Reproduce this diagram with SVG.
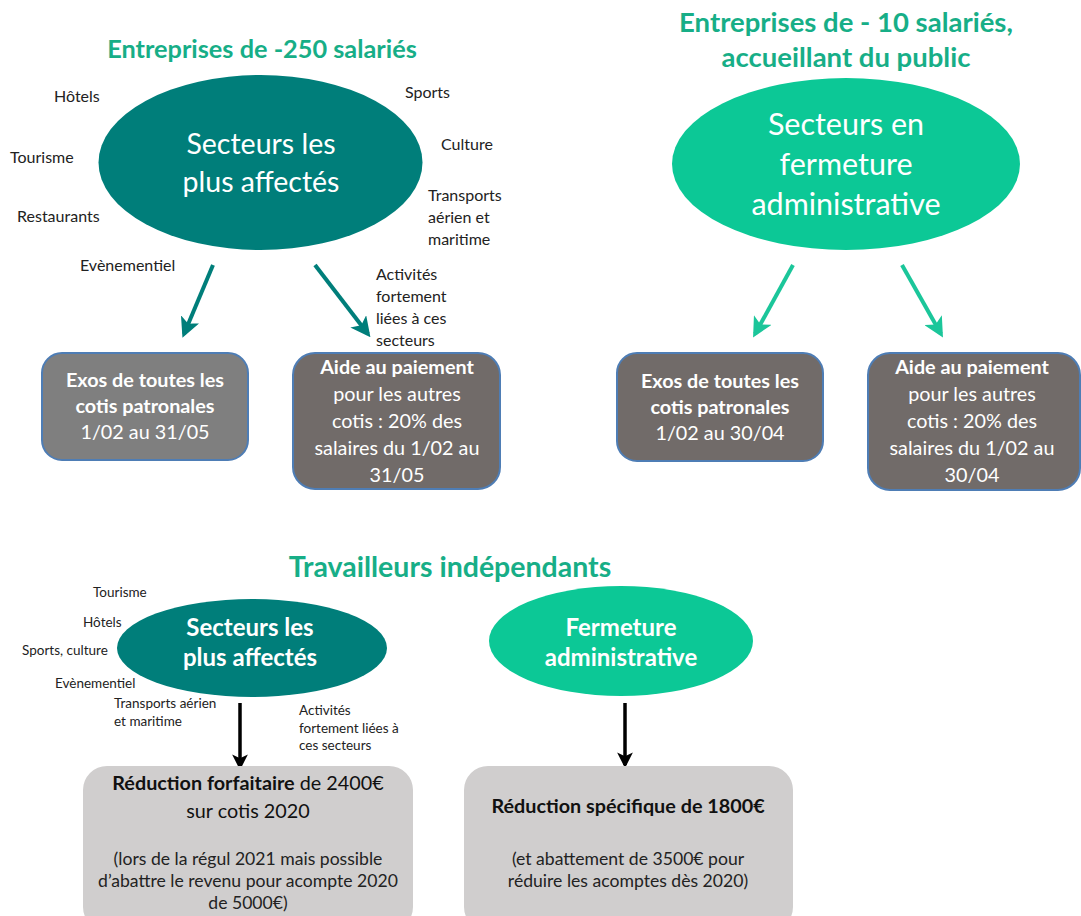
<svg xmlns="http://www.w3.org/2000/svg" width="1081" height="916" viewBox="0 0 1081 916">
<style>
text{font-family:Lato,"Open Sans","Liberation Sans",sans-serif}
.title{font-weight:bold;fill:#17AE87;text-anchor:middle}
.lbl{font-size:16px;fill:#222}
.slbl{font-size:13.5px;fill:#222}
.big{fill:#fff;text-anchor:middle}
.mid{font-size:24px;fill:#fff;text-anchor:middle;font-weight:bold}
.bt{font-size:19.8px;fill:#fff;text-anchor:middle}
.b{font-weight:bold}
.dt{font-size:19.8px;fill:#111;text-anchor:middle}
.st{font-size:17.6px;fill:#222;text-anchor:middle}
.box{stroke:#4E7DB5;stroke-width:2}
.teal{fill:#007E7A}
.mint{fill:#0CC896}
</style>
<defs>
<marker id="ah-teal" viewBox="0 0 10 10" refX="8" refY="5" markerWidth="5" markerHeight="5" orient="auto" markerUnits="strokeWidth"><path d="M0,0 L10,5 L0,10 L2.5,5 Z" fill="#007E7A"/></marker>
<marker id="ah-mint" viewBox="0 0 10 10" refX="8" refY="5" markerWidth="5" markerHeight="5" orient="auto" markerUnits="strokeWidth"><path d="M0,0 L10,5 L0,10 L2.5,5 Z" fill="#1BC69A"/></marker>
<marker id="ah-black" viewBox="0 0 10 10" refX="8" refY="5" markerWidth="4.5" markerHeight="4.5" orient="auto" markerUnits="strokeWidth"><path d="M0,0 L10,5 L0,10 L2.5,5 Z" fill="#000"/></marker>
</defs>

<g id="titles">
<text class="title" x="262" y="58" font-size="25.3">Entreprises de -250 salariés</text>
<text class="title" x="846" y="32" font-size="27.5">Entreprises de - 10 salariés,</text>
<text class="title" x="846" y="67" font-size="27.5">accueillant du public</text>
<text class="title" x="450" y="577" font-size="28.5">Travailleurs indépendants</text>
</g>

<g id="connectors">
<line x1="213" y1="265" x2="184" y2="334" stroke="#007E7A" stroke-width="4" marker-end="url(#ah-teal)"/>
<line x1="315" y1="265" x2="368" y2="334" stroke="#007E7A" stroke-width="4" marker-end="url(#ah-teal)"/>
<line x1="793" y1="265" x2="755" y2="334" stroke="#1BC69A" stroke-width="4" marker-end="url(#ah-mint)"/>
<line x1="902" y1="265" x2="941" y2="334" stroke="#1BC69A" stroke-width="4" marker-end="url(#ah-mint)"/>
<line x1="240" y1="703" x2="240" y2="767" stroke="#000" stroke-width="3.5" marker-end="url(#ah-black)"/>
<line x1="625" y1="703" x2="625" y2="765" stroke="#000" stroke-width="3.5" marker-end="url(#ah-black)"/>
</g>

<g id="node-secteurs-250">
<ellipse class="teal" cx="260.5" cy="162.5" rx="162" ry="87.5"/>
<text class="big" x="261" y="154" font-size="28.5">Secteurs les</text>
<text class="big" x="261" y="192" font-size="28.5">plus affectés</text>
</g>
<g id="labels-250">
<text class="lbl" x="54" y="102">Hôtels</text>
<text class="lbl" x="10" y="163">Tourisme</text>
<text class="lbl" x="17" y="222">Restaurants</text>
<text class="lbl" x="80" y="271">Evènementiel</text>
<text class="lbl" x="405" y="98">Sports</text>
<text class="lbl" x="441" y="150">Culture</text>
<text class="lbl" x="428" y="201">Transports</text>
<text class="lbl" x="428" y="223">aérien et</text>
<text class="lbl" x="428" y="245">maritime</text>
<text class="lbl" x="376" y="280">Activités</text>
<text class="lbl" x="376" y="302">fortement</text>
<text class="lbl" x="376" y="324">liées à ces</text>
<text class="lbl" x="376" y="346">secteurs</text>
</g>

<g id="node-exos-250">
<rect class="box" x="42" y="353" width="206" height="107" rx="20" fill="#7F7F7F"/>
<text class="bt b" x="145" y="387">Exos de toutes les</text>
<text class="bt b" x="145" y="413">cotis patronales</text>
<text class="bt" x="145" y="439">1/02 au 31/05</text>
</g>
<g id="node-aide-250">
<rect class="box" x="293" y="353" width="207" height="136" rx="22" fill="#716B69"/>
<text class="bt b" x="397" y="374">Aide au paiement</text>
<text class="bt" x="397" y="401">pour les autres</text>
<text class="bt" x="397" y="428">cotis : 20% des</text>
<text class="bt" x="397" y="455">salaires du 1/02 au</text>
<text class="bt" x="397" y="482">31/05</text>
</g>

<g id="node-fermeture-10">
<ellipse class="mint" cx="846" cy="164" rx="174" ry="86"/>
<text class="big" x="846" y="135" font-size="30.5">Secteurs en</text>
<text class="big" x="846" y="175" font-size="30.5">fermeture</text>
<text class="big" x="846" y="215" font-size="30.5">administrative</text>
</g>
<g id="node-exos-10">
<rect class="box" x="617" y="353" width="206" height="108" rx="20" fill="#716B69"/>
<text class="bt b" x="720" y="388">Exos de toutes les</text>
<text class="bt b" x="720" y="414">cotis patronales</text>
<text class="bt" x="720" y="440">1/02 au 30/04</text>
</g>
<g id="node-aide-10">
<rect class="box" x="868" y="353" width="212" height="137" rx="22" fill="#716B69"/>
<text class="bt b" x="972" y="374">Aide au paiement</text>
<text class="bt" x="972" y="401">pour les autres</text>
<text class="bt" x="972" y="428">cotis : 20% des</text>
<text class="bt" x="972" y="455">salaires du 1/02 au</text>
<text class="bt" x="972" y="482">30/04</text>
</g>

<g id="node-ti-secteurs">
<ellipse class="teal" cx="252" cy="648" rx="135" ry="49"/>
<text class="mid" x="250" y="636">Secteurs les</text>
<text class="mid" x="250" y="666">plus affectés</text>
</g>
<g id="labels-ti">
<text class="slbl" x="93" y="597">Tourisme</text>
<text class="slbl" x="83" y="627">Hôtels</text>
<text class="slbl" x="22" y="655">Sports, culture</text>
<text class="slbl" x="55" y="688">Evènementiel</text>
<text class="slbl" x="114" y="708">Transports aérien</text>
<text class="slbl" x="114" y="726">et maritime</text>
<text class="slbl" x="299" y="715">Activités</text>
<text class="slbl" x="299" y="733">fortement liées à</text>
<text class="slbl" x="299" y="750">ces secteurs</text>
</g>
<g id="node-ti-fermeture">
<ellipse class="mint" cx="621" cy="641" rx="132" ry="55"/>
<text class="mid" x="621" y="636">Fermeture</text>
<text class="mid" x="621" y="666">administrative</text>
</g>

<g id="node-reduc-forfait">
<rect x="83" y="766" width="330" height="165" rx="24" fill="#D0CECE"/>
<text class="dt" x="248" y="790"><tspan class="b">Réduction forfaitaire</tspan> de 2400€</text>
<text class="dt" x="248" y="818">sur cotis 2020</text>
<text class="st" x="248" y="865">(lors de la régul 2021 mais possible</text>
<text class="st" x="248" y="887">d’abattre le revenu pour acompte 2020</text>
<text class="st" x="248" y="909">de 5000€)</text>
</g>
<g id="node-reduc-specifique">
<rect x="464" y="766" width="329" height="165" rx="24" fill="#D0CECE"/>
<text class="dt b" x="628" y="813" font-size="20.5">Réduction spécifique de 1800€</text>
<text class="st" x="628" y="865">(et abattement de 3500€ pour</text>
<text class="st" x="628" y="887">réduire les acomptes dès 2020)</text>
</g>
</svg>
